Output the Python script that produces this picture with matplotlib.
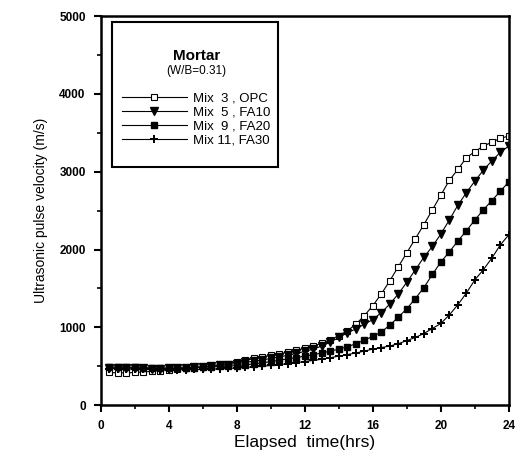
import matplotlib.pyplot as plt
from matplotlib.patches import Rectangle
from matplotlib.ticker import MultipleLocator

plt.rcParams['font.family'] = ['Liberation Sans', 'DejaVu Sans']

# elapsed time (hrs), one reading every half hour
hrs = [0.5, 1.0, 1.5, 2.0, 2.5, 3.0, 3.5, 4.0, 4.5, 5.0, 5.5, 6.0,
       6.5, 7.0, 7.5, 8.0, 8.5, 9.0, 9.5, 10.0, 10.5, 11.0, 11.5, 12.0,
       12.5, 13.0, 13.5, 14.0, 14.5, 15.0, 15.5, 16.0, 16.5, 17.0, 17.5, 18.0,
       18.5, 19.0, 19.5, 20.0, 20.5, 21.0, 21.5, 22.0, 22.5, 23.0, 23.5, 24.0]

mix3 = [420, 415, 415, 420, 425, 435, 445, 455, 465, 475, 485, 495,
        505, 520, 535, 555, 575, 600, 620, 640, 660, 680, 705, 730,
        760, 795, 840, 895, 955, 1040, 1150, 1280, 1430, 1600, 1780, 1960,
        2140, 2320, 2510, 2700, 2890, 3030, 3180, 3260, 3330, 3380, 3430, 3460]

mix5 = [480, 480, 478, 475, 472, 470, 470, 472, 475, 480, 485, 492,
        500, 510, 522, 535, 550, 565, 580, 600, 620, 640, 665, 690,
        720, 760, 810, 870, 930, 980, 1040, 1100, 1190, 1300, 1430, 1580,
        1740, 1900, 2040, 2200, 2380, 2570, 2730, 2880, 3020, 3140, 3250, 3330]

mix9 = [490, 490, 488, 485, 482, 480, 478, 478, 478, 480, 483, 487,
        492, 497, 502, 508, 518, 530, 545, 560, 578, 595, 612, 630,
        650, 670, 695, 720, 750, 790, 835, 885, 940, 1030, 1130, 1240,
        1370, 1510, 1680, 1840, 1970, 2110, 2240, 2380, 2510, 2630, 2750, 2870]

mix11 = [470, 468, 465, 462, 460, 458, 456, 455, 455, 456, 458, 460,
         463, 467, 472, 478, 485, 492, 500, 510, 520, 532, 545, 560,
         575, 590, 610, 630, 650, 670, 695, 720, 740, 760, 790, 830,
         870, 920, 985, 1050, 1160, 1290, 1440, 1610, 1740, 1890, 2060, 2190]

fig = plt.figure(figsize=(5.15, 4.63), dpi=100)
ax = fig.add_axes([0.196, 0.125, 0.792, 0.840])

ax.plot(hrs, mix3, color='k', lw=0.8, marker='s', ms=4.3, mfc='white', mec='k', mew=0.8, label='Mix  3 , OPC')
ax.plot(hrs, mix5, color='k', lw=0.8, marker='v', ms=5.2, label='Mix  5 , FA10')
ax.plot(hrs, mix9, color='k', lw=0.8, marker='s', ms=4.3, label='Mix  9 , FA20')
ax.plot(hrs, mix11, color='k', lw=0.8, marker='P', ms=5.5, mew=0, label='Mix 11, FA30')

ax.set_xlim(0, 24)
ax.set_ylim(0, 5000)
ax.xaxis.set_major_locator(MultipleLocator(4))
ax.xaxis.set_minor_locator(MultipleLocator(2))
ax.yaxis.set_major_locator(MultipleLocator(1000))
ax.yaxis.set_minor_locator(MultipleLocator(500))
ax.tick_params(which='major', length=5, width=1.5, labelsize=8.5, pad=6)
ax.tick_params(which='minor', length=3, width=1.2)
for lab in ax.get_xticklabels() + ax.get_yticklabels():
    lab.set_fontweight('bold')
for s in ax.spines.values():
    s.set_linewidth(1.8)

ax.set_xlabel('Elapsed  time(hrs)', fontsize=12.5, labelpad=2)
ax.set_ylabel('Ultrasonic pulse velocity (m/s)', fontsize=10, labelpad=8)

# legend box with two-line title
ax.add_patch(Rectangle((0.027, 0.612), 0.407, 0.373, transform=ax.transAxes,
                       fill=False, lw=1.5, ec='k', zorder=5))
ax.text(0.235, 0.898, 'Mortar', transform=ax.transAxes, ha='center', va='center',
        fontsize=11, fontweight='bold')
ax.text(0.235, 0.860, '(W/B=0.31)', transform=ax.transAxes, ha='center', va='center',
        fontsize=8.5)
ax.legend(loc='upper left', bbox_to_anchor=(0.052, 0.805), frameon=False,
          handlelength=4.9, handletextpad=0.5, labelspacing=0.15, fontsize=9.5,
          borderaxespad=0, borderpad=0)

plt.savefig('out.png')
